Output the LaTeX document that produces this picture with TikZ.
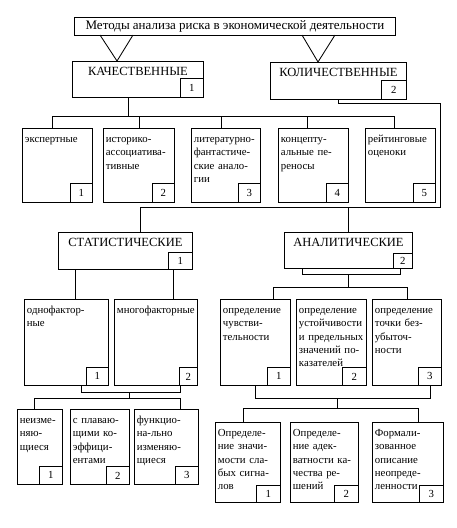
\documentclass[tikz,border=0pt]{standalone}
\usepackage{fontspec}
\setmainfont{Liberation Serif}
\hyphenpenalty=10000
\tikzset{
  cell/.style 2 args={draw, anchor=north west, align=left,
    inner xsep=2.5pt, inner ysep=2pt, text height=12pt,
    /utils/exec={\pgfmathsetmacro\cellw{#1-5}\pgfmathsetmacro\celld{#2-16}},
    text width=\cellw pt, text depth=\celld pt},
  head/.style 2 args={cell={#1}{#2}, align=center,
    font=\fontsize{12.5}{14}\selectfont},
  num/.style={draw, anchor=south east, minimum width=22pt,
    minimum height=18pt, inner sep=0pt}
}
\begin{document}
\begin{tikzpicture}[x=1pt,y=-1pt,line width=0.85pt,
    every node/.style={font=\fontsize{10.8}{13.3}\selectfont}]
\path[fill=white,use as bounding box] (0,0) rectangle (456,528);

% root and two groups
\node[draw, anchor=north west, minimum width=321pt, minimum height=18pt,
  inner sep=1pt, font=\fontsize{13}{14}\selectfont] (method) at (74,17)
  {Методы анализа риска в экономической деятельности};
\node[head={131}{36}] (qual) at (72,61) {КАЧЕСТВЕННЫЕ};
\node[num, minimum width=23pt, minimum height=19pt] (qualn) at (qual.south east) {1};
\node[head={136}{37}] (quant) at (270,62) {КОЛИЧЕСТВЕННЫЕ};
\node[num, minimum width=25pt, minimum height=19pt] (quantn) at (quant.south east) {2};

% qualitative methods
\node[cell={70}{74}] (q1) at (22,128) {экспертные};
\node[cell={71}{74}] (q2) at (103,128) {историко-\\ассоциатива-\\тивные};
\node[cell={69}{74}] (q3) at (191,128) {литературно-\\фантастиче-\\ские анало-\\гии};
\node[cell={70}{74}] (q4) at (278,128) {концепту-\\альные пе-\\реносы};
\node[cell={70}{74}] (q5) at (365,128) {рейтинговые\\оценоки};
\foreach \n/\t in {q1/1,q2/2,q3/3,q4/4,q5/5}
  \node[num, minimum height=19pt] (\n n) at (\n.south east) {\t};

% quantitative methods
\node[head={134}{37}] (stat) at (58,232) {СТАТИСТИЧЕСКИЕ};
\node[num, minimum width=24pt, minimum height=17pt] (statn) at (stat.south east) {1};
\node[head={128}{36}] (anal) at (284,232) {АНАЛИТИЧЕСКИЕ};
\node[num, minimum width=19pt, minimum height=15pt] (analn) at (anal.south east) {2};

\node[cell={84}{86}] (st1) at (24,299) {однофактор-\\ные};
\node[num] (st1n) at (st1.south east) {1};
\node[cell={83}{86}] (st2) at (114,299) {многофакторные};
\node[num, minimum width=18pt] (st2n) at (st2.south east) {2};

\node[cell={70}{86}] (an1) at (220,299) {определение\\чувстви-\\тельности};
\node[num, minimum width=23pt] (an1n) at (an1.south east) {1};
\node[cell={70}{86}] (an2) at (296,299) {определение\\устойчивости\\и предельных\\значений по-\\казателей};
\node[num, minimum width=24pt] (an2n) at (an2.south east) {2};
\node[cell={69}{86}] (an3) at (372,299) {определение\\точки без-\\убыточ-\\ности};
\node[num, minimum width=23pt] (an3n) at (an3.south east) {3};

\node[cell={45}{75}] (b1) at (17,409) {неизме-\\няю-\\щиеся};
\node[cell={59}{75}] (b2) at (70,409) {с плаваю-\\щими ко-\\эффици-\\ентами};
\node[cell={64}{75}] (b3) at (134,409) {функцио-\\на-льно\\изменяю-\\щиеся};
\foreach \n/\t in {b1/1,b2/2,b3/3}
  \node[num, minimum width=23pt] (\n n) at (\n.south east) {\t};

\node[cell={65}{80}] (c1) at (215,422) {Определе-\\ние значи-\\мости сла-\\бых сигна-\\лов};
\node[cell={68}{80}] (c2) at (290,422) {Определе-\\ние адек-\\ватности ка-\\чества ре-\\шений};
\node[cell={71}{80}] (c3) at (372,422) {Формали-\\зованное\\описание\\неопреде-\\ленности};
\foreach \n/\t in {c1/1,c2/2,c3/3}
  \node[num, minimum width=24pt, minimum height=17pt] (\n n) at (\n.south east) {\t};

% connectors
\coordinate (vl) at ([xshift=45pt]qual.north west);
\coordinate (vr) at ([xshift=48pt]quant.north west);
\draw (vl) ++(-17,-26) -- (vl) -- ++(16,-26);
\draw (vr) ++(-16,-27) -- (vr) -- ++(17,-27);

\draw ([xshift=-10pt]qual.south) -- ++(0,19);
\draw ([xshift=-5pt]q1.north) -- ++(0,-12) -| ([xshift=-6pt]q5.north);
\foreach \n/\s in {q2/0,q3/-5,q4/-6}
  \draw ([xshift=\s pt]\n.north) -- ++(0,-12);

\coordinate (rb) at (440,207);
\draw (quant.south) -- ++(0,4) -| (rb) -| ([xshift=15pt]stat.north);
\draw (anal.north) -- (anal.north |- rb);

\draw ([xshift=9pt]st1.north) -- ++(0,-30);
\draw ([xshift=17pt]st2.north) -- ++(0,-30);
\draw ([xshift=-27pt]st1.south east) -- ++(0,7) -| ([xshift=-17pt]st2.south east);
\coordinate (sb) at (129,392);
\draw (sb) -- ++(0,6);
\draw ([xshift=-5.5pt]b1.north) -- ++(0,-11) -| ([xshift=14pt]b3.north);

\draw ([xshift=18pt]anal.south west) -- ++(0,6) -| ([xshift=-12pt]anal.south east);
\draw ([yshift=-6pt]anal.south) -- ++(0,13);
\draw ([xshift=18pt]an1.north) -- ++(0,-12) -| (an3.north);

\draw ([xshift=-35pt]an1.south east) -- ++(0,13) -| ([xshift=-11pt]an3.south east);
\coordinate (ab) at (337,398);
\draw (ab) -- ++(0,10);
\draw ([xshift=-4.5pt]c1.north) -- ++(0,-14) -| ([xshift=10.5pt]c3.north);
\end{tikzpicture}
\end{document}
